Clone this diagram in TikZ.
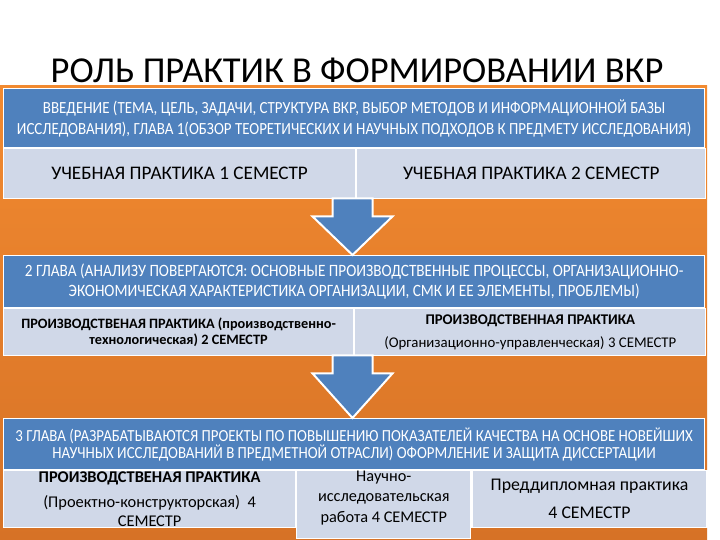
\documentclass[tikz,border=0pt]{standalone}
\usepackage{fontspec}
\setmainfont{Carlito}
\newfontfamily\chapfont{Carlito}[FakeStretch=0.88]
\usetikzlibrary{positioning,calc}

\definecolor{chapblue}{RGB}{79,129,189}
\definecolor{pracgray}{RGB}{208,216,232}
\definecolor{bgtop}{RGB}{242,138,48}
\definecolor{bgbot}{RGB}{214,114,38}

\begin{document}
\begin{tikzpicture}[x=1pt,y=-1pt,
  chap/.style={draw=white,line width=1.2pt,fill=chapblue,text=white,align=center,
               inner sep=0pt,minimum width=701pt,anchor=north west},
  prac/.style={draw=white,line width=1.2pt,fill=pracgray,text=black,align=center,
               inner sep=0pt},
  blockarrow/.style={draw=white,line width=2pt,fill=chapblue,line join=miter}
]
  \useasboundingbox (0,0) rectangle (720,540);
  \fill[top color=bgtop,bottom color=bgbot] (0,86) rectangle (707,540);

  \node[font=\fontsize{36.5}{40}\selectfont] (title) at (357,70) {РОЛЬ ПРАКТИК В ФОРМИРОВАНИИ ВКР};

  % 1 глава
  \node[chap,minimum height=59pt,font=\chapfont\fontsize{17}{21}\selectfont] (ch1) at (3,88)
       {ВВЕДЕНИЕ (ТЕМА, ЦЕЛЬ, ЗАДАЧИ, СТРУКТУРА ВКР, ВЫБОР МЕТОДОВ И ИНФОРМАЦИОННОЙ БАЗЫ\\
        ИССЛЕДОВАНИЯ), ГЛАВА 1(ОБЗОР ТЕОРЕТИЧЕСКИХ И НАУЧНЫХ ПОДХОДОВ К ПРЕДМЕТУ ИССЛЕДОВАНИЯ)};
  \node[prac,minimum width=352pt,minimum height=50pt,font=\fontsize{19.2}{21}\selectfont,
        below=0pt of ch1.south west,anchor=north west] (up1) {УЧЕБНАЯ ПРАКТИКА 1 СЕМЕСТР};
  \node[prac,minimum width=349pt,minimum height=50pt,font=\fontsize{19.2}{21}\selectfont,
        right=0pt of up1.north east,anchor=north west] (up2) {УЧЕБНАЯ ПРАКТИКА 2 СЕМЕСТР};

  % 2 глава
  \node[chap,minimum height=52pt,font=\chapfont\fontsize{17.3}{19.5}\selectfont] (ch2) at (3,255)
       {2 ГЛАВА (АНАЛИЗУ ПОВЕРГАЮТСЯ: ОСНОВНЫЕ ПРОИЗВОДСТВЕННЫЕ ПРОЦЕССЫ, ОРГАНИЗАЦИОННО-\\
        ЭКОНОМИЧЕСКАЯ ХАРАКТЕРИСТИКА ОРГАНИЗАЦИИ, СМК И ЕЕ ЭЛЕМЕНТЫ, ПРОБЛЕМЫ)};
  \node[prac,minimum width=350pt,minimum height=47pt,font=\fontsize{14.3}{16.5}\selectfont\bfseries,
        below=0pt of ch2.south west,anchor=north west] (pp2)
       {ПРОИЗВОДСТВЕНАЯ ПРАКТИКА (производственно-\\технологическая) 2 СЕМЕСТР};
  \node[prac,minimum width=351pt,minimum height=47pt,font=\fontsize{14.8}{23}\selectfont,
        right=0pt of pp2.north east,anchor=north west] (pp3)
       {\textbf{ПРОИЗВОДСТВЕННАЯ ПРАКТИКА}\\(Организационно-управленческая) 3 СЕМЕСТР};

  % 3 глава
  \node[chap,minimum height=51pt,font=\chapfont\fontsize{16.9}{15.5}\selectfont] (ch3) at (3,418)
       {3 ГЛАВА (РАЗРАБАТЫВАЮТСЯ ПРОЕКТЫ ПО ПОВЫШЕНИЮ ПОКАЗАТЕЛЕЙ КАЧЕСТВА НА ОСНОВЕ НОВЕЙШИХ\\
        НАУЧНЫХ ИССЛЕДОВАНИЙ В ПРЕДМЕТНОЙ ОТРАСЛИ) ОФОРМЛЕНИЕ И ЗАЩИТА ДИССЕРТАЦИИ};
  \node[prac,minimum width=292pt,minimum height=57pt,font=\fontsize{16.4}{25}\selectfont,
        below=0pt of ch3.south west,anchor=north west] (pp4)
       {\textbf{ПРОИЗВОДСТВЕНАЯ ПРАКТИКА}\\(Проектно-конструкторская)\ \ 4\\[-6pt]СЕМЕСТР};
  \node[prac,minimum width=174pt,minimum height=57pt,font=\fontsize{16.3}{20.5}\selectfont,
        right=0pt of pp4.north east,anchor=north west] (nir)
       {Научно-\\исследовательская\\работа 4 СЕМЕСТР\\[-4pt]};
  \node[prac,minimum width=235pt,minimum height=57pt,font=\fontsize{17.8}{28}\selectfont,
        right=0pt of nir.north east,anchor=north west] (pdp)
       {Преддипломная практика\\4 СЕМЕСТР};

  % стрелки
  \foreach \from/\to in {up1/ch2,pp2/ch3}{
    \coordinate (s) at (352.5,0 |- \from.south);
    \coordinate (t) at (352.5,0 |- \to.north);
    \draw[blockarrow] ($(s)+(-20,-1)$) -- ($(s)+(20,-1)$) -- ($(s)+(20,17)$)
      -- ($(s)+(40,17)$) -- (t) -- ($(s)+(-40,17)$) -- ($(s)+(-20,17)$) -- cycle;
  }
\end{tikzpicture}
\end{document}
